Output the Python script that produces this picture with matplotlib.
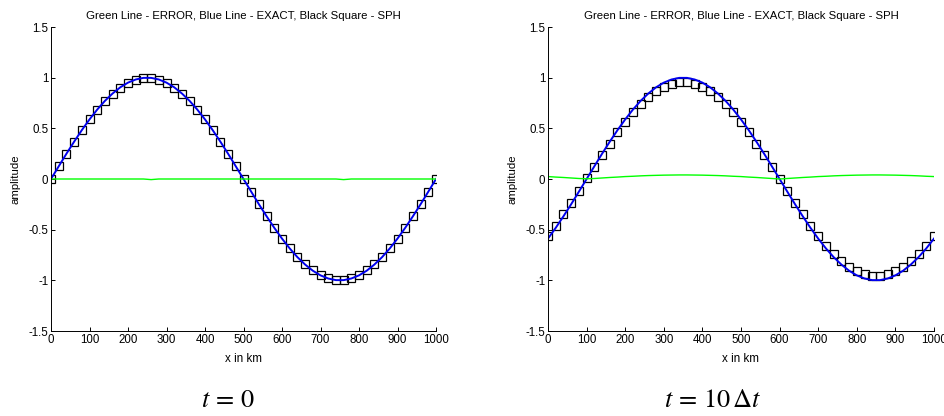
import matplotlib
matplotlib.use("Agg")
import matplotlib.pyplot as plt

# sample positions along the domain (km)
x_km = [0, 20, 40, 60, 80, 100, 120, 140, 160, 180, 200, 220, 240, 260, 280, 300,
        320, 340, 360, 380, 400, 420, 440, 460, 480, 500, 520, 540, 560, 580, 600,
        620, 640, 660, 680, 700, 720, 740, 760, 780, 800, 820, 840, 860, 880, 900,
        920, 940, 960, 980, 1000]

# t = 0 panel
exact_t0 = [0.000, 0.125, 0.249, 0.368, 0.482, 0.588, 0.685, 0.771, 0.844, 0.905,
            0.951, 0.982, 0.998, 0.998, 0.982, 0.951, 0.905, 0.844, 0.771, 0.685,
            0.588, 0.482, 0.368, 0.249, 0.125, 0.000,
            -0.125, -0.249, -0.368, -0.482, -0.588, -0.685, -0.771, -0.844, -0.905,
            -0.951, -0.982, -0.998, -0.998, -0.982, -0.951, -0.905, -0.844, -0.771,
            -0.685, -0.588, -0.482, -0.368, -0.249, -0.125, 0.000]
sph_t0 = [0.00, 0.13, 0.25, 0.37, 0.48, 0.59, 0.68, 0.77, 0.84, 0.90,
          0.95, 0.98, 1.00, 1.00, 0.98, 0.95, 0.90, 0.84, 0.77, 0.68,
          0.59, 0.48, 0.37, 0.25, 0.13, 0.00,
          -0.13, -0.25, -0.37, -0.48, -0.59, -0.68, -0.77, -0.84, -0.90,
          -0.95, -0.98, -1.00, -1.00, -0.98, -0.95, -0.90, -0.84, -0.77,
          -0.68, -0.59, -0.48, -0.37, -0.25, -0.13, 0.00]
error_t0 = [0.0, 0.0, 0.0, 0.0, 0.0, 0.0, 0.0, 0.0, 0.0, 0.0,
            0.0, 0.0, 0.0, -0.006, 0.0, 0.0, 0.0, 0.0, 0.0, 0.0,
            0.0, 0.0, 0.0, 0.0, 0.0, 0.0,
            0.0, 0.0, 0.0, 0.0, 0.0, 0.0, 0.0, 0.0, 0.0,
            0.0, 0.0, 0.0, -0.006, 0.0, 0.0, 0.0, 0.0, 0.0,
            0.0, 0.0, 0.0, 0.0, 0.0, 0.0, 0.0]

# t = 10 dt panel
exact_t10 = [-0.588, -0.482, -0.368, -0.249, -0.125, 0.000,
             0.125, 0.249, 0.368, 0.482, 0.588, 0.685, 0.771, 0.844, 0.905, 0.951,
             0.982, 0.998, 0.998, 0.982, 0.951, 0.905, 0.844, 0.771, 0.685, 0.588,
             0.482, 0.368, 0.249, 0.125, 0.000,
             -0.125, -0.249, -0.368, -0.482, -0.588, -0.685, -0.771, -0.844, -0.905,
             -0.951, -0.982, -0.998, -0.998, -0.982, -0.951, -0.905, -0.844, -0.771,
             -0.685, -0.588]
sph_t10 = [-0.56, -0.46, -0.35, -0.24, -0.12, 0.01,
           0.12, 0.24, 0.35, 0.46, 0.56, 0.66, 0.74, 0.81, 0.87, 0.91,
           0.94, 0.96, 0.96, 0.94, 0.91, 0.87, 0.81, 0.74, 0.66, 0.56,
           0.46, 0.35, 0.24, 0.12, 0.00,
           -0.12, -0.24, -0.35, -0.46, -0.56, -0.66, -0.74, -0.81, -0.87,
           -0.91, -0.94, -0.96, -0.96, -0.94, -0.91, -0.87, -0.81, -0.74,
           -0.66, -0.56]
error_t10 = [0.024, 0.019, 0.015, 0.010, 0.005, 0.002,
             0.005, 0.010, 0.015, 0.019, 0.024, 0.027, 0.031, 0.034, 0.036, 0.038,
             0.039, 0.040, 0.040, 0.039, 0.038, 0.036, 0.034, 0.031, 0.027, 0.024,
             0.019, 0.015, 0.010, 0.005, 0.000,
             0.005, 0.010, 0.015, 0.019, 0.024, 0.027, 0.031, 0.034, 0.036,
             0.038, 0.039, 0.040, 0.040, 0.039, 0.038, 0.036, 0.034, 0.031,
             0.027, 0.024]

x_ticks = [0, 100, 200, 300, 400, 500, 600, 700, 800, 900, 1000]
y_ticks = [-1.5, -1, -0.5, 0, 0.5, 1, 1.5]
y_tick_labels = ["-1.5", "-1", "-0.5", "0", "0.5", "1", "1.5"]

title = "Green Line - ERROR, Blue Line - EXACT, Black Square - SPH"

plt.rcParams['font.family'] = ['Liberation Sans', 'DejaVu Sans']
plt.rcParams['mathtext.fontset'] = 'stix'

fig = plt.figure(figsize=(9.44, 4.16), dpi=100)

panels = [
    ([51 / 944, 85 / 416, 385 / 944, 304 / 416], exact_t0, sph_t0, error_t0, r'$t\,=\,0$', 228),
    ([548 / 944, 85 / 416, 386 / 944, 304 / 416], exact_t10, sph_t10, error_t10, r'$t\,=\,10\,\Delta t$', 713),
]

for rect, exact, sph, err, caption, cap_x in panels:
    ax = fig.add_axes(rect)
    ax.plot(x_km, sph, linestyle='none', marker='s', markersize=5.6,
            markerfacecolor='none', markeredgecolor='black', markeredgewidth=0.9)
    ax.plot(x_km, exact, color='#0000ee', linewidth=1.4)
    ax.plot(x_km, err, color='#00ff00', linewidth=1.0)

    ax.set_xlim(0, 1000)
    ax.set_ylim(-1.5, 1.5)
    ax.set_xticks(x_ticks)
    ax.set_yticks(y_ticks)
    ax.set_yticklabels(y_tick_labels)
    ax.tick_params(direction='in', length=3, width=0.7, labelsize=8.3, pad=2)
    ax.spines['top'].set_visible(False)
    ax.spines['right'].set_visible(False)
    for s in ['left', 'bottom']:
        ax.spines[s].set_linewidth(0.7)
    ax.set_title(title, fontsize=8.2, pad=6)
    ax.set_xlabel('x in km', fontsize=8.4, labelpad=5)
    ax.set_ylabel('amplitude', fontsize=8.2, labelpad=6)

    fig.text(cap_x / 944, 1 - 400 / 416, caption, fontsize=19,
             ha='center', va='center')

fig.savefig('out.png', dpi=100)
